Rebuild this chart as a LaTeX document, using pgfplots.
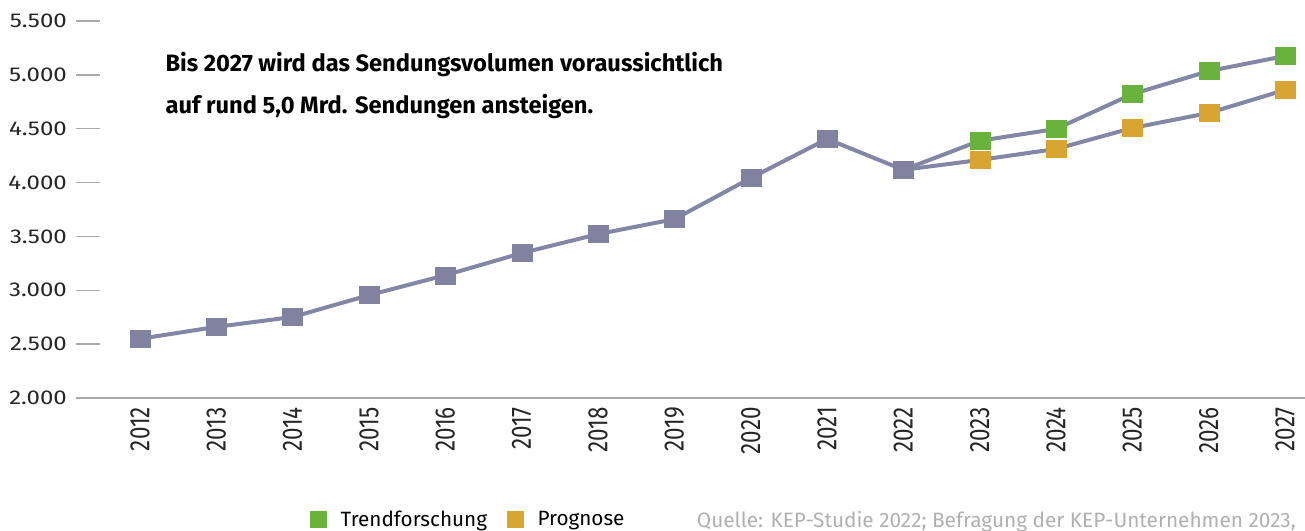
\documentclass[border=0pt]{standalone}
\usepackage{pgfplots}
\pgfplotsset{compat=1.18}
\usepackage{fontspec}
\setmainfont{Fira Sans}
\definecolor{lineC}{HTML}{8486A6}
\definecolor{markC}{HTML}{8181A0}
\definecolor{greenC}{HTML}{6AB23E}
\definecolor{yellowC}{HTML}{D8A532}
\definecolor{tickC}{HTML}{AAAAAA}
\definecolor{srcC}{HTML}{B0B0B0}
\begin{document}
\begin{tikzpicture}[x=1pt,y=1pt]
\useasboundingbox (0,0) rectangle (1305,530);
\begin{axis}[
  at={(76pt,132pt)}, anchor=south west,
  width=1229pt, height=377pt, scale only axis,
  xmin=2011.162, xmax=2027.26,
  ymin=2000, ymax=5500,
  axis lines*=left,
  axis line style={tickC, line width=1.5pt},
  y axis line style={draw=none},
  ytick={2000,2500,...,5500},
  xtick={2012,...,2027},
  tick align=inside, major tick length=24pt,
  ytick style={tickC, line width=1.5pt},
  xtick style={draw=none},
  scaled ticks=false,
  tick label style={text=black!85},
  /pgf/number format/assume math mode=true,
  x tick label style={rotate=90, anchor=east, inner sep=0pt, font=\fontsize{28}{32}\selectfont},
  xticklabel={\scalebox{0.8}[1]{\pgfmathprintnumber[1000 sep={}]{\tick}}},
  xticklabel shift=9pt,
  y tick label style={inner sep=0pt, font=\fontsize{20}{24}\selectfont},
  yticklabel={\scalebox{1.2}[1]{\pgfmathprintnumber[fixed, 1000 sep={.}]{\tick}}},
  yticklabel shift=9pt,
  clip=false,
  legend style={draw=none, fill=none, at={(0.1905,-0.321)}, anchor=west, legend columns=2,
    font=\fontsize{20.7}{24}\selectfont, inner sep=0pt,
    /tikz/every even column/.append style={column sep=18pt}},
  legend cell align=left,
]
% lines
\addplot[lineC, line width=4pt, line join=round, forget plot] coordinates {
 (2012,2550)(2013,2660)(2014,2752)(2015,2955)(2016,3140)(2017,3345)(2018,3522)(2019,3660)(2020,4042)(2021,4405)(2022,4118)};
\addplot[lineC, line width=4pt, line join=round, forget plot] coordinates {
 (2022,4118)(2023,4388)(2024,4498)(2025,4822)(2026,5035)(2027,5175)};
\addplot[lineC, line width=4pt, line join=round, forget plot] coordinates {
 (2022,4118)(2023,4210)(2024,4312)(2025,4507)(2026,4646)(2027,4860)};
% marks
\addplot[only marks, color=markC, mark=square*, mark size=10pt, mark options={draw=none, fill=markC, yscale=0.85}, forget plot] coordinates {
 (2012,2550)(2013,2660)(2014,2752)(2015,2955)(2016,3140)(2017,3345)(2018,3522)(2019,3660)(2020,4042)(2021,4405)(2022,4118)};
\addplot[only marks, color=greenC, mark=square*, mark size=10pt, mark options={draw=none, fill=greenC, yscale=0.85}, forget plot] coordinates {
 (2023,4388)(2024,4498)(2025,4822)(2026,5035)(2027,5175)};
\addplot[only marks, color=yellowC, mark=square*, mark size=10pt, mark options={draw=none, fill=yellowC, yscale=0.85}, forget plot] coordinates {
 (2023,4210)(2024,4312)(2025,4507)(2026,4646)(2027,4860)};
\addlegendimage{legend image code/.code={\fill[greenC] (0pt,-8pt) rectangle (16pt,8pt);}}
\addlegendentry{\hspace{12pt}Trendforschung}
\addlegendimage{legend image code/.code={\fill[yellowC] (0pt,-8pt) rectangle (16pt,8pt);}}
\addlegendentry{\hspace{12pt}Prognose}
\end{axis}
\node[anchor=base west, font=\bfseries\fontsize{23.7}{28}\selectfont] at (162,458) {Bis 2027 wird das Sendungsvolumen voraussichtlich};
\node[anchor=base west, font=\bfseries\fontsize{23.7}{28}\selectfont] at (162,416) {auf rund 5,0 Mrd. Sendungen ansteigen.};
\node[anchor=base east, text=srcC, font=\fontsize{20.8}{24}\selectfont, inner sep=0pt] at (1296,3) {Quelle: KEP-Studie 2022; Befragung der KEP-Unternehmen 2023,};
\end{tikzpicture}
\end{document}
